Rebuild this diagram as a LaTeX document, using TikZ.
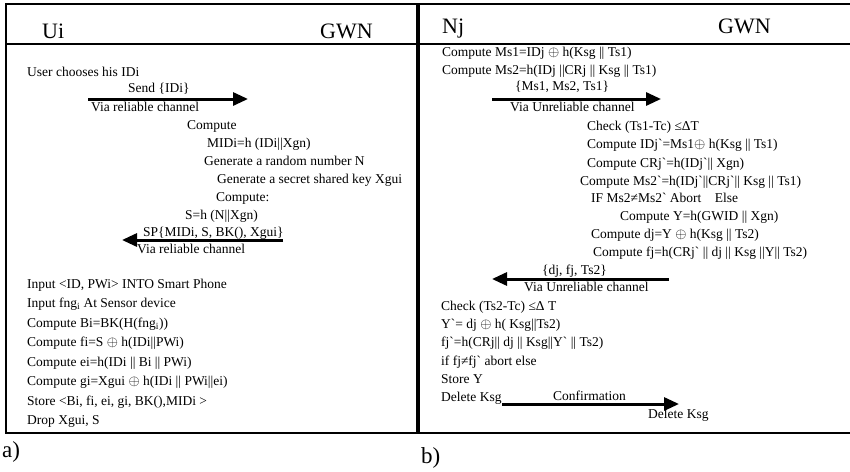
\documentclass[tikz,border=0pt]{standalone}
\usepackage{fontspec}
\setmainfont{Liberation Serif}
\usetikzlibrary{arrows.meta,positioning}
\newcommand{\gr}{\textasciigrave}
\newcommand{\xor}{$\oplus$}

\begin{document}
\begin{tikzpicture}[x=1pt, y=-1pt, node distance=19.5pt,
  font=\fontsize{13.5}{16}\selectfont,
  txt/.style={anchor=west, inner sep=0pt, text height=9.5pt, text depth=3pt},
  head/.style={anchor=base west, inner sep=0pt, font=\fontsize{22}{26}\selectfont},
  tag/.style={anchor=base west, inner sep=0pt, font=\fontsize{23}{27}\selectfont},
  msg/.style={-{Triangle[length=15pt, width=13pt]}, line width=3pt},
  panel/.style={line width=2pt}]
\useasboundingbox (0,0) rectangle (850,471);

% a) registration
\draw[panel, line width=1.6pt] (6,4) rectangle (417,433);
\draw[panel] (6,44) -- (417,44);
\node[head] (ui) at (42,38) {Ui};
\node[head] (gwnL) at (320,38) {GWN};
\node[txt] (user) at (27,73) {User chooses his IDi};
\node[txt] (send) at (128,89) {Send \{IDi\}};
\coordinate (s1) at (88,99);
\coordinate (e1) at (248,99);
\draw[msg] (s1) -- (e1);
\node[txt] (via1) at (91,108) {Via reliable channel};
\node[txt] (comp1) at (187,126) {Compute};
\node[txt] (midi) at (207,144) {MIDi=h (IDi||Xgn)};
\node[txt] (gen1) at (204,162) {Generate a random number N};
\node[txt] (gen2) at (217,180) {Generate a secret shared key Xgui};
\node[txt] (comp2) at (216,198) {Compute:};
\node[txt] (shk) at (185,216) {S=h (N||Xgn)};
\node[txt] (spk) at (143,233) {SP\{MIDi, S, BK(), Xgui\}};
\coordinate (s2) at (283,240);
\coordinate (e2) at (122,240);
\draw[msg] (s2) -- (e2);
\node[txt] (via2) at (137,250) {Via reliable channel};
\node[txt] (inp) at (27,285) {Input <ID, PWi> INTO Smart Phone};
\node[txt, below=of inp.west, anchor=west] (fng) {Input fng\textsubscript{i} At Sensor device};
\node[txt, below=of fng.west, anchor=west] (bi) {Compute Bi=BK(H(fng\textsubscript{i}))};
\node[txt, below=of bi.west, anchor=west] (fi) {Compute fi=S \xor{} h(IDi||PWi)};
\node[txt, below=of fi.west, anchor=west] (ei) {Compute ei=h(IDi || Bi || PWi)};
\node[txt, below=of ei.west, anchor=west] (gi) {Compute gi=Xgui \xor{} h(IDi || PWi||ei)};
\node[txt, below=of gi.west, anchor=west] (store) {Store <Bi, fi, ei, gi, BK(),MIDi >};
\node[txt, below=of store.west, anchor=west] (drop) {Drop Xgui, S};
\node[tag] (la) at (2,457) {a)};

% b) login and authentication
\draw[panel, line width=2.6pt] (850,4) -- (419,4) -- (419,433) -- (850,433);
\draw[panel, line width=2.6pt] (419,44) -- (850,44);
\node[head] (nj) at (442,33) {Nj};
\node[head] (gwnR) at (718,33) {GWN};
\node[txt] (ms1) at (442,53) {Compute Ms1=IDj \xor{} h(Ksg || Ts1)};
\node[txt] (ms2) at (442,71) {Compute Ms2=h(IDj ||CRj || Ksg || Ts1)};
\node[txt] (m1) at (515,87) {\{Ms1, Ms2, Ts1\}};
\coordinate (s3) at (492,99);
\coordinate (e3) at (661,99);
\draw[msg] (s3) -- (e3);
\node[txt] (via3) at (510,108) {Via Unreliable channel};
\node[txt] (chk1) at (587,127) {Check (Ts1-Tc) ≤ΔT};
\node[txt] (idj) at (587,145) {Compute IDj\gr=Ms1\xor{} h(Ksg || Ts1)};
\node[txt] (crj) at (587,164) {Compute CRj\gr=h(IDj\gr|| Xgn)};
\node[txt] (ms2p) at (580,182) {Compute Ms2\gr=h(IDj\gr||CRj\gr|| Ksg || Ts1)};
\node[txt] (ifms) at (591,199) {IF Ms2≠Ms2\gr{} Abort\quad Else};
\node[txt] (cy) at (620,217) {Compute Y=h(GWID || Xgn)};
\node[txt] (cdj) at (591,235) {Compute dj=Y \xor{} h(Ksg || Ts2)};
\node[txt] (cfj) at (593,253) {Compute fj=h(CRj\gr{} || dj || Ksg ||Y|| Ts2)};
\node[txt] (m2) at (542,271) {\{dj, fj, Ts2\}};
\coordinate (s4) at (669,279);
\coordinate (e4) at (492,279);
\draw[msg] (s4) -- (e4);
\node[txt] (via4) at (524,288) {Via Unreliable channel};
\node[txt] (chk2) at (441,307) {Check (Ts2-Tc) ≤Δ T};
\node[txt, below=18.3pt of chk2.west, anchor=west] (yp) {Y\gr= dj \xor{} h( Ksg||Ts2)};
\node[txt, below=18.3pt of yp.west, anchor=west] (fjp) {fj\gr=h(CRj|| dj || Ksg||Y\gr{} || Ts2)};
\node[txt, below=18.3pt of fjp.west, anchor=west] (iffj) {if fj≠fj\gr{} abort else};
\node[txt, below=18.3pt of iffj.west, anchor=west] (sty) {Store Y};
\node[txt, below=18.3pt of sty.west, anchor=west] (delN) {Delete Ksg};
\node[txt] (conf) at (553,397) {Confirmation};
\coordinate (s5) at (502,404);
\coordinate (e5) at (679,404);
\draw[msg] (s5) -- (e5);
\node[txt] (delG) at (648,415) {Delete Ksg};
\node[tag] (lb) at (421,463) {b)};
\end{tikzpicture}
\end{document}
